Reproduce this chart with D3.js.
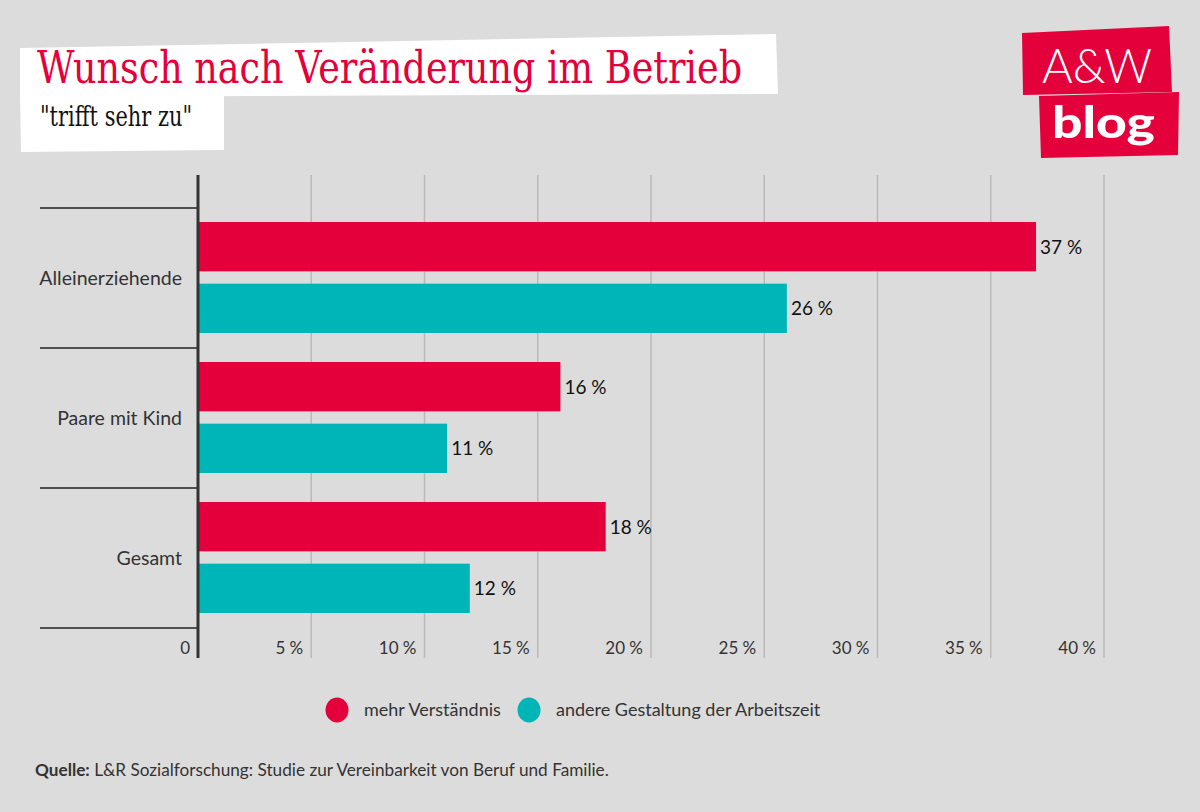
<!DOCTYPE html>
<html><head><meta charset="utf-8">
<script src="https://cdn.jsdelivr.net/npm/d3@7"></script>
<style>
html,body{margin:0;padding:0;background:#dcdcdc;}
svg{display:block;}
</style></head>
<body>
<svg id="chart" width="1200" height="812"></svg>
<script>
const categories = ["Alleinerziehende", "Paare mit Kind", "Gesamt"];
const seriesNames = ["mehr Verständnis", "andere Gestaltung der Arbeitszeit"];
const mehrVerstaendnis = [37, 16, 18];
const andereGestaltung = [26, 11, 12];
const tickValues = [0, 5, 10, 15, 20, 25, 30, 35, 40];
const tickLabels = ["0", "5 %", "10 %", "15 %", "20 %", "25 %", "30 %", "35 %", "40 %"];
const colors = ["#e4003a", "#00b5b8"];

const svg = d3.select("#chart");
const W = 1200, H = 812;
svg.append("rect").attr("width", W).attr("height", H).attr("fill", "#dcdcdc");

const sans = "Lato, 'Noto Sans', sans-serif";

// Title boxes
svg.append("polygon").attr("points", "20,48 776,34 778,94 20,97").attr("fill", "#fff");
svg.append("polygon").attr("points", "20,94 224,94 224,150 21,152").attr("fill", "#fff");
svg.append("text").attr("x", 37).attr("y", 83)
  .attr("font-family", "'DejaVu Serif', serif").attr("font-size", 44)
  .attr("fill", "#e4003a").attr("textLength", 705).attr("lengthAdjust", "spacingAndGlyphs")
  .text("Wunsch nach Veränderung im Betrieb");
svg.append("text").attr("x", 40).attr("y", 126)
  .attr("font-family", "'DejaVu Serif', serif").attr("font-size", 27)
  .attr("fill", "#111").attr("textLength", 152).attr("lengthAdjust", "spacingAndGlyphs")
  .text("\"trifft sehr zu\"");

// Logo
svg.append("polygon").attr("points", "1022,33 1169,26 1172,92 1023,95").attr("fill", "#e4003a");
svg.append("polygon").attr("points", "1039,96 1179,92 1178,155 1041,158").attr("fill", "#e4003a");
svg.append("text").attr("x", 1042).attr("y", 83)
  .attr("font-family", "Lato, sans-serif").attr("font-size", 48).attr("font-weight", 300)
  .attr("fill", "#fff").attr("textLength", 110).attr("lengthAdjust", "spacingAndGlyphs").text("A&W");
svg.append("text").attr("x", 1052).attr("y", 138)
  .attr("font-family", "Lato, sans-serif").attr("font-size", 44).attr("font-weight", 900)
  .attr("fill", "#fff").attr("textLength", 103).attr("lengthAdjust", "spacingAndGlyphs").text("blog");

// Scales
const x = d3.scaleLinear().domain([0, 40]).range([198, 1104]);
const y = d3.scaleBand().domain(categories).range([208, 628]).padding(0);
const inner = d3.scaleBand().domain(seriesNames).range([14, 125]).paddingInner(0.2);

const gridTop = 175, gridBottom = 658;

// Gridlines
svg.append("g").selectAll("line").data(tickValues.filter(d => d > 0)).join("line")
  .attr("x1", d => x(d)).attr("x2", d => x(d))
  .attr("y1", gridTop).attr("y2", gridBottom)
  .attr("stroke", "#b9b9b9").attr("stroke-width", 1.5);

// Category separators
const seps = categories.map(c => y(c)).concat([y.range()[1]]);
svg.append("g").selectAll("line").data(seps).join("line")
  .attr("x1", 40).attr("x2", 198).attr("y1", d => d).attr("y2", d => d)
  .attr("stroke", "#222").attr("stroke-width", 1.5);

// Bars
const data = [];
categories.forEach((c, i) => {
  data.push({cat: c, s: seriesNames[0], v: mehrVerstaendnis[i], col: colors[0]});
  data.push({cat: c, s: seriesNames[1], v: andereGestaltung[i], col: colors[1]});
});
svg.append("g").selectAll("rect").data(data).join("rect")
  .attr("x", x(0)).attr("y", d => y(d.cat) + inner(d.s))
  .attr("width", d => x(d.v) - x(0)).attr("height", inner.bandwidth())
  .attr("fill", d => d.col);

// Value labels
svg.append("g").selectAll("text").data(data).join("text")
  .attr("x", d => x(d.v) + 4).attr("y", d => y(d.cat) + inner(d.s) + inner.bandwidth() / 2 + 7)
  .attr("font-family", sans).attr("font-size", 19).attr("fill", "#111")
  .text(d => d.v + " %");

// Axis line
svg.append("line").attr("x1", 198).attr("x2", 198).attr("y1", gridTop).attr("y2", gridBottom)
  .attr("stroke", "#333").attr("stroke-width", 3);

// Category labels
svg.append("g").selectAll("text").data(categories).join("text")
  .attr("x", 182).attr("y", d => y(d) + y.bandwidth() / 2 + 7)
  .attr("text-anchor", "end").attr("font-family", sans).attr("font-size", 19.5).attr("fill", "#333")
  .text(d => d);

// Tick labels
svg.append("g").selectAll("text").data(tickValues).join("text")
  .attr("x", d => x(d) - 8).attr("y", 654)
  .attr("text-anchor", "end").attr("font-family", sans).attr("font-size", 17).attr("fill", "#333")
  .text((d, i) => tickLabels[i]);

// Legend
const legendX = [337, 529];
const lg = svg.append("g");
seriesNames.forEach((s, i) => {
  lg.append("ellipse").attr("cx", legendX[i]).attr("cy", 710).attr("rx", 11.5).attr("ry", 12.5).attr("fill", colors[i]);
  lg.append("text").attr("x", legendX[i] + 27).attr("y", 716)
    .attr("font-family", sans).attr("font-size", 18).attr("fill", "#333").text(s);
});

// Source
const src = svg.append("text").attr("x", 35).attr("y", 776)
  .attr("font-family", sans).attr("font-size", 17.2).attr("fill", "#333");
src.append("tspan").attr("font-weight", 700).text("Quelle:");
src.append("tspan").text(" L&R Sozialforschung: Studie zur Vereinbarkeit von Beruf und Familie.");
</script>
</body></html>
